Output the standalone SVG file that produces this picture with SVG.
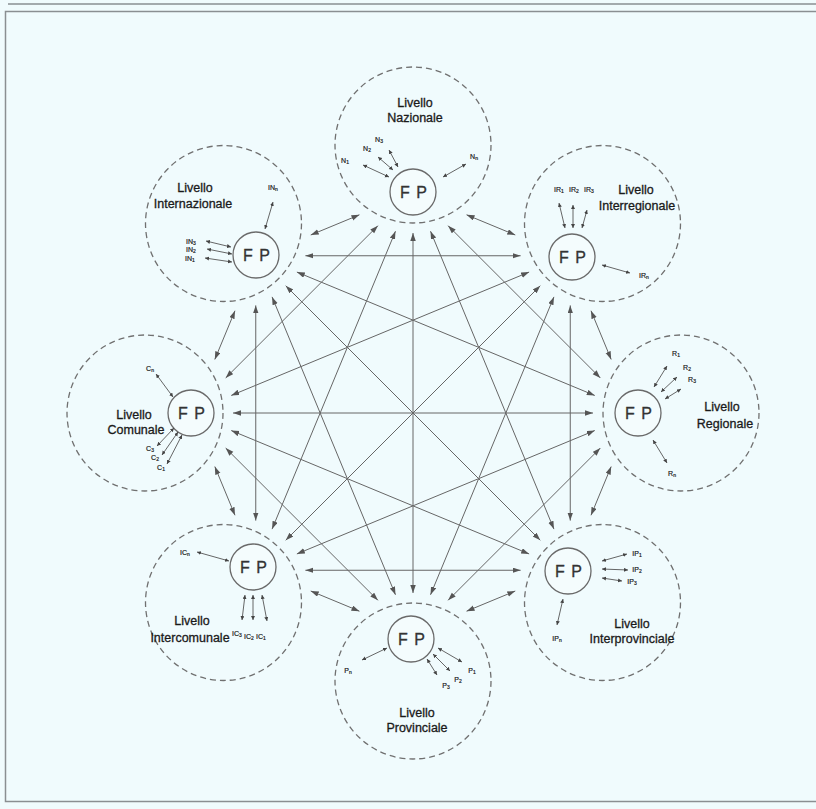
<svg xmlns="http://www.w3.org/2000/svg" width="816" height="809" viewBox="0 0 816 809">
<style>
.bg{fill:#f0fbfd}
.frame{fill:none;stroke:#8a8f92;stroke-width:1.5}
.outer{fill:none;stroke:#707070;stroke-width:1.3;stroke-dasharray:6 4}
.fp{fill:#f4fcfd;stroke:#6a6a6a;stroke-width:1.3}
.conn line{stroke:#666;stroke-width:1;marker-start:url(#ba);marker-end:url(#ba)}
.sub{stroke:#555;stroke-width:0.9;marker-start:url(#sa);marker-end:url(#sa)}
.lbl{font-family:"Liberation Sans",Arial,sans-serif;font-size:12.5px;fill:#1a1a1a;stroke:#1a1a1a;stroke-width:0.3;text-anchor:middle}
.fpt{font-family:"Liberation Sans",Arial,sans-serif;font-size:16px;fill:#333;stroke:#333;stroke-width:0.3;text-anchor:middle;letter-spacing:1px}
.s{font-family:"Liberation Sans",Arial,sans-serif;font-size:7px;fill:#1a1a1a;stroke:#1a1a1a;stroke-width:0.2;text-anchor:middle}
.s tspan{font-size:5px}
</style>
<defs>
<marker id="ba" markerUnits="userSpaceOnUse" markerWidth="9" markerHeight="7" refX="8" refY="2.75" orient="auto-start-reverse"><path d="M0,0 L8,2.75 L0,5.5 z" fill="#555"/></marker>
<marker id="sa" markerUnits="userSpaceOnUse" markerWidth="5" markerHeight="5" refX="4" refY="2" orient="auto-start-reverse"><path d="M0,0 L4,2 L0,4 z" fill="#444"/></marker>
</defs>
<rect class="bg" x="0" y="0" width="816" height="809"/>
<line x1="8" y1="4" x2="816" y2="4" stroke="#8a8f92" stroke-width="1.5"/>
<rect class="frame" x="5.5" y="11.5" width="830" height="790"/>

<g id="connectors" class="conn">
<line x1="466.57" y1="214.82" x2="515.25" y2="234.99"/>
<line x1="448.09" y1="225.70" x2="600.30" y2="377.91"/>
<line x1="430.54" y1="231.23" x2="553.93" y2="529.12"/>
<line x1="413" y1="233" x2="413" y2="593"/>
<line x1="395.46" y1="231.23" x2="272.07" y2="529.12"/>
<line x1="377.91" y1="225.70" x2="225.70" y2="377.91"/>
<line x1="359.43" y1="214.82" x2="310.75" y2="234.99"/>
<line x1="591.01" y1="310.75" x2="611.18" y2="359.43"/>
<line x1="570.25" y1="305.38" x2="570.25" y2="520.62"/>
<line x1="553.93" y1="296.88" x2="430.54" y2="594.77"/>
<line x1="540.27" y1="285.73" x2="285.73" y2="540.27"/>
<line x1="529.12" y1="272.07" x2="231.23" y2="395.46"/>
<line x1="520.62" y1="255.75" x2="305.38" y2="255.75"/>
<line x1="611.18" y1="466.57" x2="591.01" y2="515.25"/>
<line x1="600.30" y1="448.09" x2="448.09" y2="600.30"/>
<line x1="594.77" y1="430.54" x2="296.88" y2="553.93"/>
<line x1="593" y1="413" x2="233" y2="413"/>
<line x1="594.77" y1="395.46" x2="296.88" y2="272.07"/>
<line x1="515.25" y1="591.01" x2="466.57" y2="611.18"/>
<line x1="520.62" y1="570.25" x2="305.38" y2="570.25"/>
<line x1="529.12" y1="553.93" x2="231.23" y2="430.54"/>
<line x1="540.27" y1="540.27" x2="285.73" y2="285.73"/>
<line x1="359.43" y1="611.18" x2="310.75" y2="591.01"/>
<line x1="377.91" y1="600.30" x2="225.70" y2="448.09"/>
<line x1="395.46" y1="594.77" x2="272.07" y2="296.88"/>
<line x1="234.99" y1="515.25" x2="214.82" y2="466.57"/>
<line x1="255.75" y1="520.62" x2="255.75" y2="305.38"/>
<line x1="214.82" y1="359.43" x2="234.99" y2="310.75"/>
</g>

<g id="nazionale">
<circle class="outer" cx="413" cy="145" r="78"/>
<circle class="fp" cx="413" cy="192" r="23"/>
<text class="fpt" x="414" y="198">F P</text>
<text class="lbl" x="415" y="106.5">Livello</text>
<text class="lbl" x="415" y="121.5">Nazionale</text>
<text class="s" x="345" y="162.5">N<tspan dy="1">1</tspan></text>
<text class="s" x="367" y="150.5">N<tspan dy="1">2</tspan></text>
<text class="s" x="379" y="141.5">N<tspan dy="1">3</tspan></text>
<text class="s" x="474" y="158.5">N<tspan dy="1">n</tspan></text>
<line class="sub" x1="363" y1="165" x2="389" y2="177"/>
<line class="sub" x1="378" y1="157" x2="393" y2="170"/>
<line class="sub" x1="389" y1="150" x2="398" y2="167"/>
<line class="sub" x1="466" y1="164" x2="443" y2="177"/>
</g>

<g id="interregionale">
<circle class="outer" cx="602.5" cy="223.5" r="78"/>
<circle class="fp" cx="572" cy="257" r="23"/>
<text class="fpt" x="573" y="263">F P</text>
<text class="lbl" x="636" y="193.5">Livello</text>
<text class="lbl" x="637" y="209.5">Interregionale</text>
<text class="s" x="559" y="191.5">IR<tspan dy="1">1</tspan></text>
<text class="s" x="574" y="191.5">IR<tspan dy="1">2</tspan></text>
<text class="s" x="589" y="191.5">IR<tspan dy="1">3</tspan></text>
<text class="s" x="644" y="277.5">IR<tspan dy="1">n</tspan></text>
<line class="sub" x1="559" y1="203" x2="565" y2="228"/>
<line class="sub" x1="573" y1="205" x2="573" y2="228"/>
<line class="sub" x1="587" y1="210" x2="582" y2="228"/>
<line class="sub" x1="602" y1="265" x2="630" y2="273"/>
</g>

<g id="regionale">
<circle class="outer" cx="681" cy="413" r="78"/>
<circle class="fp" cx="638" cy="413" r="23"/>
<text class="fpt" x="639" y="419">F P</text>
<text class="lbl" x="722" y="410.5">Livello</text>
<text class="lbl" x="725" y="427.5">Regionale</text>
<text class="s" x="676" y="355.5">R<tspan dy="1">1</tspan></text>
<text class="s" x="687" y="369.5">R<tspan dy="1">2</tspan></text>
<text class="s" x="692" y="381.5">R<tspan dy="1">3</tspan></text>
<text class="s" x="672" y="476">R<tspan dy="1">n</tspan></text>
<line class="sub" x1="667" y1="366" x2="654" y2="387"/>
<line class="sub" x1="677" y1="377" x2="661" y2="392"/>
<line class="sub" x1="681" y1="389" x2="665" y2="399"/>
<line class="sub" x1="653" y1="440" x2="667" y2="463"/>
</g>

<g id="interprovinciale">
<circle class="outer" cx="602.5" cy="602.5" r="78"/>
<circle class="fp" cx="568" cy="571" r="23"/>
<text class="fpt" x="569" y="577">F P</text>
<text class="lbl" x="632" y="627.5">Livello</text>
<text class="lbl" x="632" y="642.5">Interprovinciale</text>
<text class="s" x="637" y="555.5">IP<tspan dy="1">1</tspan></text>
<text class="s" x="637" y="571.5">IP<tspan dy="1">2</tspan></text>
<text class="s" x="632" y="583.5">IP<tspan dy="1">3</tspan></text>
<text class="s" x="557" y="640.5">IP<tspan dy="1">n</tspan></text>
<line class="sub" x1="602" y1="561" x2="627" y2="554"/>
<line class="sub" x1="602" y1="569" x2="628" y2="570"/>
<line class="sub" x1="602" y1="578" x2="622" y2="581"/>
<line class="sub" x1="563" y1="599" x2="557" y2="625"/>
</g>

<g id="provinciale">
<circle class="outer" cx="413" cy="681" r="78"/>
<circle class="fp" cx="411" cy="639" r="23"/>
<text class="fpt" x="412" y="645">F P</text>
<text class="lbl" x="417" y="716.5">Livello</text>
<text class="lbl" x="417" y="731.5">Provinciale</text>
<text class="s" x="348" y="672.5">P<tspan dy="1">n</tspan></text>
<text class="s" x="472" y="672.5">P<tspan dy="1">1</tspan></text>
<text class="s" x="458" y="681.5">P<tspan dy="1">2</tspan></text>
<text class="s" x="446" y="687.5">P<tspan dy="1">3</tspan></text>
<line class="sub" x1="362" y1="660" x2="387" y2="648"/>
<line class="sub" x1="438" y1="648" x2="462" y2="662"/>
<line class="sub" x1="433" y1="654" x2="450" y2="671"/>
<line class="sub" x1="427" y1="659" x2="437" y2="675"/>
</g>

<g id="intercomunale">
<circle class="outer" cx="223.5" cy="602.5" r="78"/>
<circle class="fp" cx="253" cy="567" r="23"/>
<text class="fpt" x="254" y="573">F P</text>
<text class="lbl" x="192" y="624.5">Livello</text>
<text class="lbl" x="190" y="641.5">Intercomunale</text>
<text class="s" x="185" y="554.5">IC<tspan dy="1">n</tspan></text>
<text class="s" x="237" y="636">IC<tspan dy="1">3</tspan></text>
<text class="s" x="249" y="638.5">IC<tspan dy="1">2</tspan></text>
<text class="s" x="261" y="638.5">IC<tspan dy="1">1</tspan></text>
<line class="sub" x1="197" y1="552" x2="229" y2="561"/>
<line class="sub" x1="245" y1="595" x2="242" y2="620"/>
<line class="sub" x1="253" y1="595" x2="253" y2="620"/>
<line class="sub" x1="262" y1="595" x2="267" y2="621"/>
</g>

<g id="comunale">
<circle class="outer" cx="145" cy="413" r="78"/>
<circle class="fp" cx="191" cy="413" r="23"/>
<text class="fpt" x="192" y="419">F P</text>
<text class="lbl" x="134" y="418.5">Livello</text>
<text class="lbl" x="136" y="433.5">Comunale</text>
<text class="s" x="150" y="370.5">C<tspan dy="1">n</tspan></text>
<text class="s" x="150" y="450.5">C<tspan dy="1">3</tspan></text>
<text class="s" x="155" y="459.5">C<tspan dy="1">2</tspan></text>
<text class="s" x="161" y="469.5">C<tspan dy="1">1</tspan></text>
<line class="sub" x1="156" y1="374" x2="173" y2="397"/>
<line class="sub" x1="157" y1="446" x2="174" y2="428"/>
<line class="sub" x1="162" y1="455" x2="178" y2="432"/>
<line class="sub" x1="167" y1="464" x2="182" y2="435"/>
</g>

<g id="internazionale">
<circle class="outer" cx="223.5" cy="223.5" r="78"/>
<circle class="fp" cx="256" cy="255" r="23"/>
<text class="fpt" x="257" y="261">F P</text>
<text class="lbl" x="195" y="191.5">Livello</text>
<text class="lbl" x="193" y="207.5">Internazionale</text>
<text class="s" x="273" y="189.5">IN<tspan dy="1">n</tspan></text>
<text class="s" x="191" y="243.5">IN<tspan dy="1">3</tspan></text>
<text class="s" x="191" y="252">IN<tspan dy="1">2</tspan></text>
<text class="s" x="190" y="260.5">IN<tspan dy="1">1</tspan></text>
<line class="sub" x1="273" y1="202" x2="265" y2="229"/>
<line class="sub" x1="206" y1="241" x2="231" y2="247"/>
<line class="sub" x1="207" y1="249" x2="232" y2="254"/>
<line class="sub" x1="205" y1="258" x2="232" y2="262"/>
</g>
</svg>
